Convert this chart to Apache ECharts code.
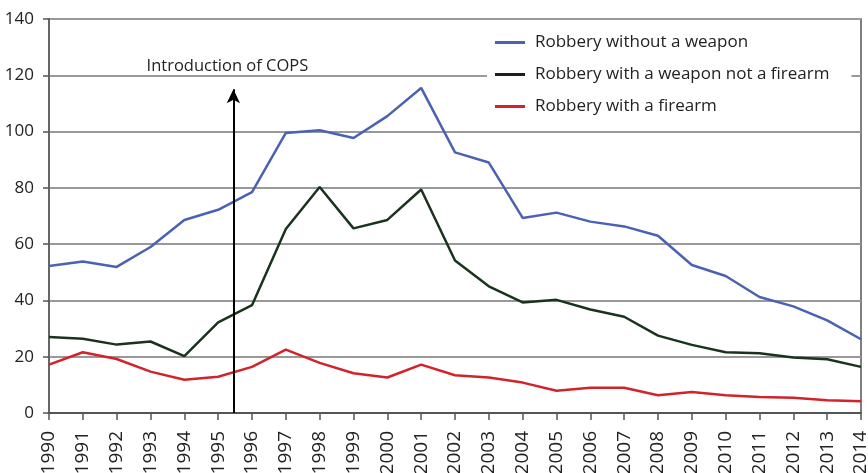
<!DOCTYPE html>
<html>
<head>
<meta charset="utf-8">
<script src="https://cdn.jsdelivr.net/npm/echarts@6/dist/echarts.min.js"></script>
<style>
  html, body { margin: 0; padding: 0; background: #fff; }
  #chart { width: 868px; height: 473px; }
</style>
</head>
<body>
<div id="chart"></div>
<script>
var years = [1990, 1991, 1992, 1993, 1994, 1995, 1996, 1997, 1998, 1999, 2000, 2001, 2002,
             2003, 2004, 2005, 2006, 2007, 2008, 2009, 2010, 2011, 2012, 2013, 2014];
var noWeapon = [52.2, 53.8, 51.9, 59, 68.6, 72.2, 78.5, 99.5, 100.5, 97.7, 105.5, 115.5, 92.6,
                89, 69.3, 71.2, 68, 66.3, 63, 52.6, 48.7, 41.2, 37.9, 32.9, 26.2];
var weaponNotFirearm = [27, 26.4, 24.3, 25.4, 20.2, 32.2, 38.3, 65.4, 80.3, 65.6, 68.6, 79.4, 54.2,
                        45, 39.3, 40.2, 36.8, 34.2, 27.5, 24.2, 21.6, 21.2, 19.7, 19.1, 16.4];
var firearm = [17.2, 21.6, 19.2, 14.7, 11.8, 12.9, 16.4, 22.5, 17.8, 14.1, 12.6, 17.2, 13.4,
               12.6, 10.8, 7.9, 9, 9, 6.3, 7.5, 6.3, 5.7, 5.4, 4.5, 4.2];
var yTicks = { min: 0, max: 140, interval: 20 };
var copsYear = 1995.45;
var copsLabel = 'Introduction of COPS';

var FONT = '"Open Sans", sans-serif';

function pairs(vals) {
    return years.map(function(y, i) { return [y, vals[i]]; });
}

var myChart = echarts.init(document.getElementById('chart'));

var option = {
    animation: false,
    grid: {
        left: 49,
        right: 7,
        top: 19,
        bottom: 60,
        outerBoundsMode: 'none',
        containLabel: false,
        show: true,
        borderColor: '#555',
        borderWidth: 1.5
    },
    legend: {
        orient: 'vertical',
        left: 487,
        top: 26,
        backgroundColor: '#fff',
        padding: [6, 22, 6, 8],
        itemWidth: 30,
        itemHeight: 14,
        itemGap: 11,
        icon: 'path://M0,6 L30,6 L30,9 L0,9 Z',
        textStyle: { fontFamily: FONT, fontSize: 17, color: '#222', lineHeight: 21, padding: [0, 0, 0, 5] },
        data: [
            { name: 'Robbery without a weapon', itemStyle: { color: '#4a62b4' } },
            { name: 'Robbery with a weapon not a firearm', itemStyle: { color: '#1e1e1e' } },
            { name: 'Robbery with a firearm', itemStyle: { color: '#d2232a' } }
        ]
    },
    xAxis: {
        type: 'value',
        min: years[0],
        max: years[years.length - 1],
        interval: 1,
        axisLine: { show: true, lineStyle: { color: '#555', width: 2 } },
        axisTick: { show: true, length: 7, lineStyle: { color: '#555', width: 1.5 } },
        splitLine: { show: false },
        axisLabel: {
            rotate: 90,
            margin: 18,
            fontFamily: FONT,
            fontSize: 19,
            color: '#222',
            hideOverlap: false,
            formatter: function(v) { return String(v); }
        }
    },
    yAxis: {
        type: 'value',
        min: yTicks.min,
        max: yTicks.max,
        interval: yTicks.interval,
        axisLine: { show: true, lineStyle: { color: '#666', width: 2 } },
        axisTick: { show: true, length: 6, lineStyle: { color: '#555', width: 1.5 } },
        splitLine: { show: true, lineStyle: { color: '#999', width: 2 } },
        axisLabel: { margin: 15, fontFamily: FONT, fontSize: 17, color: '#222' }
    },
    series: [
        {
            name: 'Robbery without a weapon',
            type: 'line',
            data: pairs(noWeapon),
            showSymbol: false,
            symbol: 'none',
            itemStyle: { color: '#4a62b4' },
            lineStyle: { color: '#4a62b4', width: 2.5 },
            z: 4,
            markLine: {
                silent: true,
                symbol: ['none', 'arrow'],
                symbolSize: [10, 14],
                lineStyle: { color: '#000', width: 2, type: 'solid' },
                label: {
                    show: true,
                    position: 'end',
                    distance: 15,
                    padding: [0, 12, 0, 0],
                    formatter: copsLabel,
                    fontFamily: FONT,
                    fontSize: 16.5,
                    color: '#222'
                },
                data: [[{ coord: [copsYear, 0] }, { coord: [copsYear, 115] }]]
            }
        },
        {
            name: 'Robbery with a weapon not a firearm',
            type: 'line',
            data: pairs(weaponNotFirearm),
            showSymbol: false,
            symbol: 'none',
            itemStyle: { color: '#1a331c' },
            lineStyle: { color: '#1a331c', width: 2.5 },
            z: 3
        },
        {
            name: 'Robbery with a firearm',
            type: 'line',
            data: pairs(firearm),
            showSymbol: false,
            symbol: 'none',
            itemStyle: { color: '#d2232a' },
            lineStyle: { color: '#d2232a', width: 2.5 },
            z: 2
        }
    ]
};

myChart.setOption(option);
</script>
</body>
</html>
